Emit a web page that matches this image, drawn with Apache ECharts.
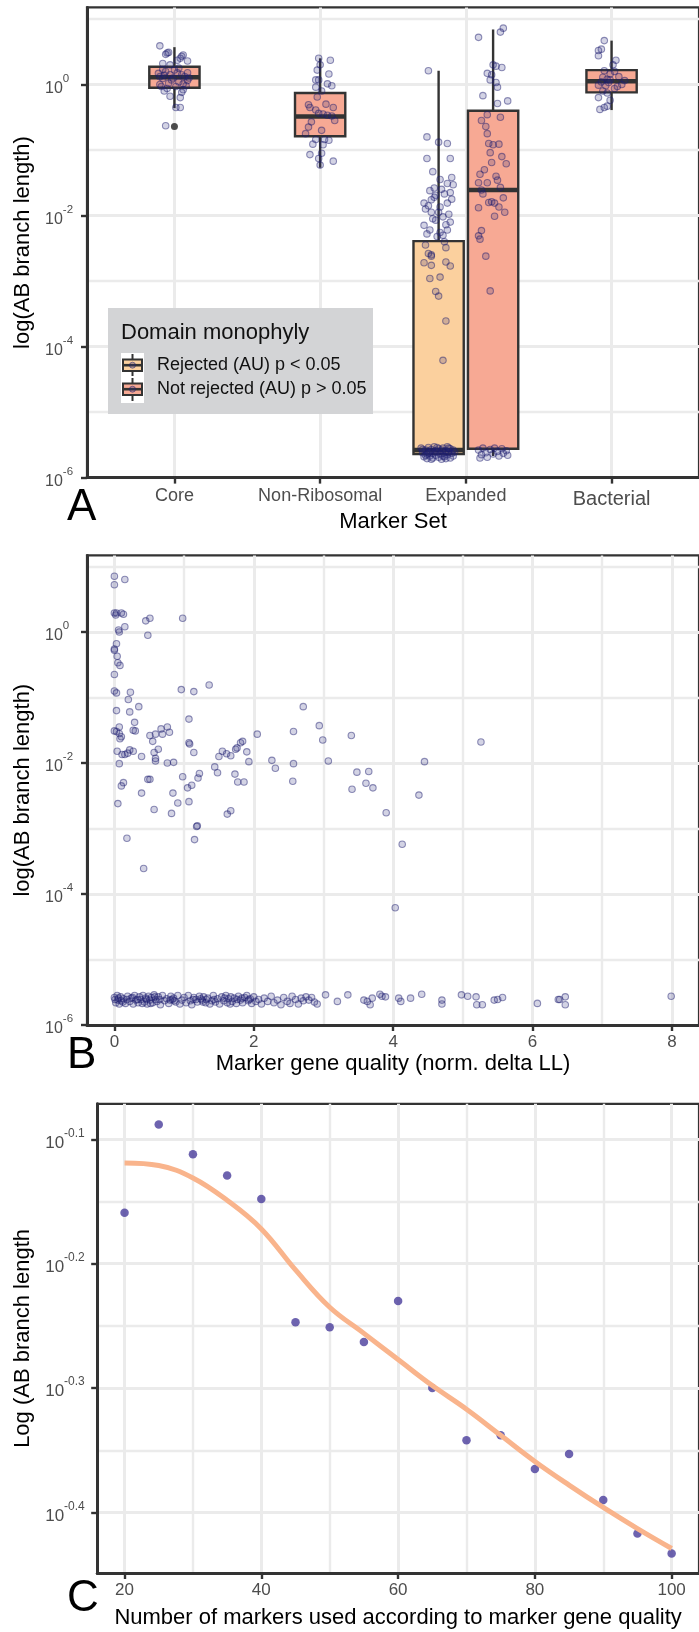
<!DOCTYPE html>
<html>
<head>
<meta charset="utf-8">
<script src="https://cdn.jsdelivr.net/npm/echarts@6/dist/echarts.min.js"></script>
<style>
  html, body { margin: 0; padding: 0; background: #fff; }
  #main { width: 699px; height: 1632px; }
</style>
</head>
<body>
<div id="main"></div>
<script>
// ---------- Panel A: marker sets (values are log10 of AB branch length) ----------
const categories = ['Core', 'Non-Ribosomal', 'Expanded', 'Bacterial'];
const groupNames = ['Rejected (AU) p < 0.05', 'Not rejected (AU) p > 0.05'];

// [low whisker, q1, median, q3, high whisker]
const rejectedBox = [null, null, [-5.66, -5.64, -5.58, -2.39, 0.21], null];
const notRejectedBox = [
  [-0.36, -0.05, 0.11, 0.27, 0.57],
  [-1.27, -0.79, -0.49, -0.13, 0.40],
  [-5.67, -5.56, -1.61, -0.40, 0.84],
  [-0.39, -0.12, 0.05, 0.22, 0.67]
];
// [category index, log10 value]
const outliersA = [[0, -0.64]];

// jittered points: [horizontal jitter, log10 value]
const coreJit = [[-0.10,0.59],[-0.05,0.48],[-0.04,0.49],[-0.06,0.46],[0.05,0.43],[0.06,0.45],[0.09,0.36],[-0.08,0.32],[0.02,0.37],[0.04,0.40],[-0.03,0.30],[-0.08,0.23],[-0.06,0.20],[0.0,0.22],[0.02,0.18],[0.09,0.18],[-0.11,0.17],[-0.03,0.15],[0.05,0.15],[-0.08,0.09],[-0.02,0.07],[0.03,0.04],[0.09,0.06],[-0.09,-0.03],[-0.05,-0.06],[0.01,-0.03],[0.06,-0.08],[-0.07,-0.10],[0.05,-0.12],[-0.03,-0.18],[0.04,-0.20],[0.01,-0.35],[0.04,-0.35],[-0.06,-0.63],[-0.10,0.12],[-0.07,0.14],[0.07,0.12],[0.10,0.10],[-0.04,0.02],[0.06,0.01],[-0.10,0.0],[0.08,-0.02],[-0.01,0.10],[0.03,0.25]];
const nonRiboJit = [[-0.01,0.40],[0.07,0.37],[0.0,0.30],[-0.02,0.22],[0.06,0.16],[-0.03,0.07],[-0.01,0.07],[0.05,0.01],[0.08,-0.02],[-0.03,-0.04],[0.01,-0.10],[-0.02,-0.19],[-0.08,-0.31],[0.04,-0.30],[0.09,-0.35],[-0.07,-0.35],[-0.03,-0.39],[-0.01,-0.44],[0.02,-0.45],[0.05,-0.47],[0.08,-0.48],[0.10,-0.55],[-0.06,-0.57],[-0.08,-0.65],[0.01,-0.70],[-0.10,-0.75],[-0.03,-0.84],[0.03,-0.84],[0.06,-0.85],[-0.05,-0.91],[0.02,-0.92],[-0.07,-1.07],[0.01,-1.05],[-0.01,-1.13],[0.09,-1.17],[0.0,-1.23]];
const expRejJit = [[-0.07,0.21],[-0.08,-0.80],[0.0,-0.88],[0.06,-0.90],[-0.08,-1.13],[0.08,-1.13],[-0.04,-1.33],[0.01,-1.45],[0.09,-1.42],[-0.03,-1.58],[0.06,-1.51],[0.10,-1.53],[0.08,-1.65],[0.04,-1.67],[-0.02,-1.69],[-0.05,-1.76],[-0.10,-1.81],[-0.09,-1.90],[0.06,-1.81],[0.01,-1.87],[-0.05,-1.95],[0.07,-1.98],[0.03,-2.02],[-0.02,-2.07],[0.05,-2.14],[-0.06,-2.22],[0.01,-2.26],[0.06,-2.22],[-0.08,-2.28],[-0.01,-2.32],[0.04,-2.40],[-0.09,-2.45],[0.05,-2.49],[-0.05,-2.60],[-0.03,-1.72],[0.02,-1.60],[-0.07,-1.85],[0.09,-1.75],[0.0,-1.95],[-0.04,-2.05],[0.08,-2.10],[-0.10,-2.15],[0.03,-2.30],[-0.06,-1.62],[-0.07,-2.58],[-0.05,-2.62],[-0.10,-2.72],[-0.05,-2.76],[0.05,-2.71],[0.08,-2.77],[-0.06,-2.96],[0.01,-2.94],[-0.02,-3.16],[0.0,-3.23],[0.05,-3.61],[0.03,-4.21],
  [-0.12,-5.55],[-0.11,-5.62],[-0.10,-5.68],[-0.09,-5.58],[-0.08,-5.64],[-0.08,-5.71],[-0.07,-5.54],[-0.06,-5.60],[-0.06,-5.67],[-0.05,-5.57],[-0.04,-5.63],[-0.04,-5.70],[-0.03,-5.53],[-0.02,-5.59],[-0.02,-5.66],[-0.01,-5.61],[0.0,-5.56],[0.0,-5.69],[0.01,-5.64],[0.02,-5.58],[0.02,-5.72],[0.03,-5.55],[0.04,-5.62],[0.04,-5.68],[0.05,-5.59],[0.06,-5.65],[0.06,-5.53],[0.07,-5.61],[0.08,-5.70],[0.08,-5.56],[0.09,-5.63],[0.10,-5.58],[0.10,-5.67],[0.11,-5.61],[-0.11,-5.57],[-0.09,-5.66],[-0.05,-5.72],[-0.01,-5.54],[0.03,-5.67],[0.07,-5.55],[-0.07,-5.62],[0.05,-5.71]];
const expNotRejJit = [[-0.10,0.72],[0.05,0.80],[0.07,0.86],[0.0,0.30],[0.02,0.28],[0.06,0.26],[-0.04,0.17],[-0.01,0.15],[-0.02,0.07],[0.02,0.03],[0.03,-0.04],[-0.07,-0.17],[0.03,-0.29],[0.10,-0.25],[-0.04,-0.46],[0.05,-0.50],[-0.05,-0.64],[-0.03,-0.90],[0.0,-0.92],[0.04,-0.91],[-0.02,-1.04],[-0.01,-1.19],[0.09,-1.21],[-0.09,-1.37],[0.03,-1.46],[-0.10,-1.50],[-0.04,-1.50],[0.05,-1.57],[-0.08,-1.61],[-0.07,-1.67],[-0.03,-1.80],[-0.01,-1.79],[0.01,-1.81],[0.04,-1.87],[0.07,-1.73],[-0.10,-1.88],[0.01,-2.01],[-0.08,-2.23],[-0.10,-2.31],[-0.09,-2.36],[-0.05,-2.62],[-0.02,-3.15],[0.02,-1.40],[-0.06,-1.30],[0.08,-1.95],[-0.04,-0.75],[0.06,-1.10],[-0.08,-0.55],
  [-0.10,-5.58],[-0.08,-5.65],[-0.07,-5.55],[-0.05,-5.62],[-0.04,-5.69],[-0.02,-5.57],[0.0,-5.64],[0.01,-5.55],[0.03,-5.60],[0.04,-5.67],[0.06,-5.56],[0.07,-5.63],[0.09,-5.59],[0.10,-5.66],[-0.09,-5.70]];
const bactJit = [[-0.05,0.67],[-0.07,0.54],[-0.09,0.52],[-0.09,0.44],[0.03,0.37],[0.01,0.30],[-0.05,0.21],[-0.01,0.16],[0.02,0.20],[-0.06,0.11],[-0.03,0.08],[-0.01,0.07],[0.09,0.06],[-0.09,-0.01],[-0.04,-0.02],[0.02,-0.06],[-0.06,-0.10],[-0.03,-0.13],[-0.09,-0.20],[-0.01,-0.24],[-0.08,-0.38],[-0.05,-0.35],[-0.03,-0.33],[0.05,0.12],[-0.02,0.03],[0.04,-0.03],[0.07,0.0],[-0.07,0.04]];

// ---------- Panel B: marker gene quality vs log10 branch length ----------
const qualityPts = [[0,0.85],[0,0.72],[0.15,0.80],[0,0.29],[0.03,0.29],[0.10,0.29],[0.13,0.27],[0.02,0.26],[0.45,0.17],[0.51,0.21],[0.98,0.21],[0.48,-0.05],[0.15,0.08],[0.06,0.03],[0.07,0.0],
  [0.03,-0.18],[0,-0.26],[0,-0.28],[0.04,-0.37],[0.05,-0.47],[0.08,-0.51],[0,-0.65],[0,-0.90],[0.03,-0.93],[0.23,-0.92],[0.96,-0.88],[1.14,-0.91],[1.36,-0.81],
  [0.20,-1.03],[0.35,-1.14],[0.03,-1.20],[0.22,-1.22],[2.71,-1.14],[0.29,-1.38],[1.07,-1.33],[0.07,-1.45],[0.27,-1.50],[0.30,-1.51],[0,-1.51],[0.03,-1.52],[0.67,-1.48],[0.76,-1.45],[0.79,-1.53],[0.59,-1.56],[0.69,-1.56],[0.51,-1.58],
  [0.07,-1.55],[0.10,-1.60],[0.08,-1.63],[0.55,-1.67],[2.05,-1.56],[2.57,-1.52],[2.94,-1.43],[3.40,-1.58],[2.99,-1.65],[5.26,-1.68],[1.07,-1.69],[1.08,-1.71],[1.81,-1.69],[1.84,-1.67],[1.76,-1.77],[1.90,-1.83],
  [0.22,-1.80],[0.27,-1.82],[0.19,-1.85],[0.15,-1.87],[0.11,-1.87],[0.04,-1.82],[0.39,-1.90],[0.57,-1.84],[0.59,-1.93],[0.59,-1.97],[0.63,-1.79],[0.76,-2.00],[0.85,-1.99],[1.14,-1.84],
  [1.50,-1.90],[1.55,-1.82],[1.61,-1.86],[1.67,-1.89],[1.74,-1.79],[1.93,-1.98],[2.26,-1.96],[2.57,-2.01],[3.07,-1.97],[4.45,-1.98],[0.07,-2.01],[2.31,-2.08],[1.44,-2.06],[1.48,-2.15],[1.73,-2.17],[1.22,-2.16],[0.98,-2.21],[1.20,-2.23],[1.77,-2.29],[1.86,-2.29],[2.56,-2.28],
  [3.48,-2.14],[3.65,-2.13],[3.61,-2.31],[3.71,-2.38],[3.41,-2.40],[0.48,-2.25],[0.51,-2.25],[0.13,-2.30],[0.10,-2.35],[1.11,-2.34],[1.05,-2.38],[0.39,-2.46],[0.84,-2.46],[4.37,-2.49],[1.07,-2.59],[0.91,-2.61],[0.05,-2.62],[0.57,-2.71],[0.82,-2.77],[1.62,-2.78],[1.67,-2.73],[3.90,-2.76],
  [1.19,-2.96],[1.18,-2.97],[0.18,-3.15],[1.15,-3.17],[4.13,-3.24],[0.42,-3.61],[4.03,-4.21],
  [0.00,-5.58],[0.02,-5.66],[0.04,-5.55],[0.05,-5.62],[0.07,-5.68],[0.09,-5.57],[0.10,-5.63],[0.13,-5.60],[0.16,-5.67],[0.19,-5.56],[0.22,-5.64],[0.24,-5.59],[0.27,-5.68],[0.29,-5.55],[0.31,-5.62],[0.34,-5.66],[0.36,-5.57],[0.38,-5.61],[0.41,-5.55],[0.43,-5.65],[0.45,-5.59],[0.47,-5.68],[0.49,-5.56],[0.51,-5.62],[0.53,-5.58],[0.55,-5.66],[0.57,-5.54],[0.59,-5.61],[0.61,-5.64],[0.63,-5.57],[0.66,-5.69],[0.69,-5.55],[0.72,-5.63],[0.75,-5.60],[0.78,-5.67],[0.81,-5.56],[0.83,-5.61],[0.85,-5.59],[0.88,-5.65],[0.91,-5.55],[0.94,-5.68],[0.97,-5.62],
  [1.00,-5.58],[1.03,-5.66],[1.06,-5.55],[1.09,-5.63],[1.11,-5.69],[1.14,-5.58],[1.17,-5.61],[1.19,-5.65],[1.22,-5.56],[1.24,-5.60],[1.26,-5.62],[1.28,-5.57],[1.31,-5.66],[1.34,-5.59],[1.37,-5.68],[1.40,-5.63],[1.42,-5.55],[1.45,-5.65],[1.48,-5.60],[1.51,-5.68],[1.54,-5.57],[1.57,-5.63],[1.60,-5.55],[1.62,-5.66],[1.64,-5.60],[1.67,-5.57],[1.69,-5.64],[1.72,-5.59],[1.75,-5.67],[1.78,-5.56],[1.81,-5.62],[1.84,-5.66],[1.87,-5.58],[1.90,-5.55],[1.92,-5.63],[1.95,-5.60],[1.97,-5.67],
  [2.00,-5.57],[2.03,-5.64],[2.07,-5.61],[2.11,-5.68],[2.15,-5.59],[2.20,-5.64],[2.25,-5.56],[2.29,-5.66],[2.34,-5.62],[2.39,-5.69],[2.43,-5.58],[2.48,-5.64],[2.52,-5.67],[2.55,-5.56],[2.60,-5.61],[2.64,-5.68],[2.68,-5.59],[2.71,-5.63],[2.75,-5.57],[2.79,-5.62],[2.83,-5.58],[2.87,-5.65],[2.91,-5.68],
  [0.01,-5.61],[0.06,-5.59],[0.12,-5.65],[0.18,-5.61],[0.26,-5.58],[0.33,-5.61],[0.40,-5.67],[0.46,-5.61],[0.52,-5.67],[0.58,-5.57],[0.65,-5.61],[0.80,-5.62],[0.86,-5.63],[1.13,-5.61],[1.27,-5.65],[1.32,-5.61],[1.43,-5.61],[1.58,-5.59],[1.66,-5.68],[1.76,-5.61],[1.83,-5.59],[1.93,-5.61],
  [3.03,-5.54],[3.20,-5.64],[3.35,-5.54],[3.58,-5.62],[3.63,-5.64],[3.67,-5.69],[3.70,-5.59],[3.81,-5.53],[3.84,-5.56],[3.89,-5.57],[4.08,-5.59],[4.11,-5.64],[4.25,-5.59],[4.41,-5.53],[4.70,-5.62],[4.70,-5.68],[4.98,-5.54],[5.07,-5.56],[5.19,-5.57],[5.20,-5.69],[5.28,-5.69],[5.45,-5.62],[5.50,-5.61],[5.57,-5.58],[6.07,-5.67],[6.37,-5.61],[6.39,-5.61],[6.47,-5.57],[6.47,-5.69],[7.99,-5.56]];

// ---------- Panel C: number of markers vs log10 branch length ----------
const markersUsed = [20, 25, 30, 35, 40, 45, 50, 55, 60, 65, 70, 75, 80, 85, 90, 95, 100];
const branchLog = [-0.159, -0.088, -0.112, -0.129, -0.148, -0.247, -0.251, -0.263, -0.230, -0.300, -0.342, -0.338, -0.365, -0.353, -0.390, -0.417, -0.433];
const smoothLog = [-0.119, -0.121, -0.131, -0.149, -0.172, -0.205, -0.235, -0.256, -0.277, -0.298, -0.317, -0.338, -0.359, -0.378, -0.396, -0.413, -0.429];

const DODGE = 0.187;
const BOX_W = 0.345;
const FONT = 'Liberation Sans, Arial, sans-serif';
const TICK_GREY = '#4d4d4d';
const FRAME = '#333333';
const GRIDC = '#ebebeb';

function boxData(boxes, side) {
  const out = [];
  boxes.forEach(function (b, i) {
    if (!b) return;
    const both = rejectedBox[i] && notRejectedBox[i];
    out.push([i + 1 + (both ? side * DODGE : 0)].concat(b));
  });
  return out;
}

function renderBox(params, api) {
  const x = api.value(0);
  const lo = api.coord([x, api.value(1)]);
  const q1 = api.coord([x, api.value(2)]);
  const md = api.coord([x, api.value(3)]);
  const q3 = api.coord([x, api.value(4)]);
  const hi = api.coord([x, api.value(5)]);
  const left = api.coord([x - BOX_W / 2, 0])[0];
  const right = api.coord([x + BOX_W / 2, 0])[0];
  const st = { stroke: FRAME, lineWidth: 2.4 };
  return {
    type: 'group',
    children: [
      { type: 'line', shape: { x1: lo[0], y1: lo[1], x2: q1[0], y2: q1[1] }, style: st },
      { type: 'line', shape: { x1: q3[0], y1: q3[1], x2: hi[0], y2: hi[1] }, style: st },
      { type: 'rect', shape: { x: left, y: q3[1], width: right - left, height: q1[1] - q3[1] },
        style: { fill: api.visual('color'), stroke: FRAME, lineWidth: 2.4 } },
      { type: 'line', shape: { x1: left, y1: md[1], x2: right, y2: md[1] }, style: { stroke: FRAME, lineWidth: 4.5 } }
    ]
  };
}

function jitterAt(points, catIdx, side) {
  return points.map(function (p) { return [catIdx + 1 + side * DODGE + p[0], p[1]]; });
}

const jitterA = []
  .concat(jitterAt(coreJit, 0, 0))
  .concat(jitterAt(nonRiboJit, 1, 0))
  .concat(jitterAt(expRejJit, 2, -1))
  .concat(jitterAt(expNotRejJit, 2, 1))
  .concat(jitterAt(bactJit, 3, 0));

const supRich = function (base, sup) {
  return {
    b: { fontSize: base, color: TICK_GREY, lineHeight: 24, verticalAlign: 'bottom', fontFamily: FONT },
    s: { fontSize: sup, color: TICK_GREY, lineHeight: 12, verticalAlign: 'top', fontFamily: FONT }
  };
};

const axisLineStyle = { show: true, onZero: false, lineStyle: { color: FRAME, width: 3 } };

function logAxisY(grid, min, max, name, majors, labelFmt, margin, base, sup, gap) {
  return {
    type: 'value', gridIndex: grid, min: min, max: max, splitNumber: grid === 2 ? 5 : 4,
    name: name, nameLocation: 'middle', nameGap: gap,
    nameTextStyle: { fontSize: 22, color: '#000', fontFamily: FONT },
    axisLine: axisLineStyle,
    axisTick: { show: true, length: 6, customValues: majors, lineStyle: { color: FRAME, width: 2.4 } },
    axisLabel: { customValues: majors, formatter: labelFmt, align: 'left', margin: margin, rich: supRich(base, sup) },
    splitLine: { show: true, lineStyle: { color: GRIDC, width: 3 } },
    minorTick: { show: false, splitNumber: 2 },
    minorSplitLine: { show: true, lineStyle: { color: GRIDC, width: 2.4 } }
  };
}

const decadeFmt = function (v) { return '{b|10}{s|' + Math.round(v) + '}'; };
const tenthFmt = function (v) { return '{b|10}{s|' + (Math.round(v * 10) / 10).toFixed(1) + '}'; };

const option = {
  animation: false,
  backgroundColor: '#ffffff',
  textStyle: { fontFamily: FONT },
  grid: [
    { left: 87, top: 7.4, width: 617, height: 470.2, show: true, borderColor: FRAME, borderWidth: 2.2 },
    { left: 87, top: 555.4, width: 617, height: 469.6, show: true, borderColor: FRAME, borderWidth: 2.2 },
    { left: 97.2, top: 1103.8, width: 607, height: 469.2, show: true, borderColor: FRAME, borderWidth: 2.2 }
  ],
  xAxis: [
    {
      type: 'value', gridIndex: 0, min: 0.4, max: 4.6,
      name: 'Marker Set', nameLocation: 'middle', nameGap: 30,
      nameTextStyle: { fontSize: 22, color: '#000', fontFamily: FONT },
      axisLine: axisLineStyle,
      axisTick: { show: true, length: 6, customValues: [1, 2, 3, 4], lineStyle: { color: FRAME, width: 2.4 } },
      axisLabel: {
        customValues: [1, 2, 3, 4], margin: 9, fontSize: 18, color: TICK_GREY,
        formatter: function (v) {
          const name = categories[Math.round(v) - 1];
          return name === 'Bacterial' ? '{big|' + name + '}' : name;
        },
        rich: { big: { fontSize: 20, color: TICK_GREY, padding: [3, 0, 0, 0], fontFamily: FONT } }
      },
      splitLine: { show: true, lineStyle: { color: GRIDC, width: 3 } }
    },
    {
      type: 'value', gridIndex: 1, min: -0.393, max: 8.389, splitNumber: 5,
      name: 'Marker gene quality (norm. delta LL)', nameLocation: 'middle', nameGap: 28,
      nameTextStyle: { fontSize: 22, color: '#000', fontFamily: FONT },
      axisLine: axisLineStyle,
      axisTick: { show: true, length: 6, customValues: [0, 2, 4, 6, 8], lineStyle: { color: FRAME, width: 2.4 } },
      axisLabel: { customValues: [0, 2, 4, 6, 8], margin: 9, fontSize: 17, color: TICK_GREY },
      splitLine: { show: true, lineStyle: { color: GRIDC, width: 3 } },
      minorTick: { show: false, splitNumber: 2 },
      minorSplitLine: { show: true, lineStyle: { color: GRIDC, width: 2.4 } }
    },
    {
      type: 'value', gridIndex: 2, min: 16, max: 104, splitNumber: 5,
      name: 'Number of markers used according to marker gene quality', nameLocation: 'middle', nameGap: 34,
      nameTextStyle: { fontSize: 22, color: '#000', fontFamily: FONT },
      axisLine: axisLineStyle,
      axisTick: { show: true, length: 6, customValues: [20, 40, 60, 80, 100], lineStyle: { color: FRAME, width: 2.4 } },
      axisLabel: { customValues: [20, 40, 60, 80, 100], margin: 9, fontSize: 17, color: TICK_GREY },
      splitLine: { show: true, lineStyle: { color: GRIDC, width: 3 } },
      minorTick: { show: false, splitNumber: 2 },
      minorSplitLine: { show: true, lineStyle: { color: GRIDC, width: 2.4 } }
    }
  ],
  yAxis: [
    logAxisY(0, -6, 1.177, 'log(AB branch length)', [-6, -4, -2, 0], decadeFmt, 42, 16, 11.5, 48),
    logAxisY(1, -6, 1.169, 'log(AB branch length)', [-6, -4, -2, 0], decadeFmt, 42, 16, 11.5, 48),
    logAxisY(2, -0.4487, -0.0714, 'Log (AB branch length', [-0.4, -0.3, -0.2, -0.1], tenthFmt, 52, 17, 12, 58)
  ],
  series: [
    {
      name: groupNames[0], type: 'custom', xAxisIndex: 0, yAxisIndex: 0,
      itemStyle: { color: '#fbd09e' }, renderItem: renderBox,
      encode: { x: 0, y: [1, 2, 3, 4, 5] }, data: boxData(rejectedBox, -1), z: 2
    },
    {
      name: groupNames[1], type: 'custom', xAxisIndex: 0, yAxisIndex: 0,
      itemStyle: { color: '#f7a994' }, renderItem: renderBox,
      encode: { x: 0, y: [1, 2, 3, 4, 5] }, data: boxData(notRejectedBox, 1), z: 2
    },
    {
      name: 'outliers', type: 'scatter', xAxisIndex: 0, yAxisIndex: 0,
      symbolSize: 7, itemStyle: { color: '#222222' },
      data: outliersA.map(function (o) { return [o[0] + 1, o[1]]; }), z: 3
    },
    {
      name: 'genes', type: 'scatter', xAxisIndex: 0, yAxisIndex: 0, symbolSize: 6.5,
      itemStyle: { color: 'rgba(45,45,125,0.26)', borderColor: 'rgba(30,30,110,0.6)', borderWidth: 1.1 },
      data: jitterA, z: 4
    },
    {
      name: 'quality', type: 'scatter', xAxisIndex: 1, yAxisIndex: 1, symbolSize: 6.5,
      itemStyle: { color: 'rgba(45,45,125,0.26)', borderColor: 'rgba(30,30,110,0.6)', borderWidth: 1.1 },
      data: qualityPts, z: 4
    },
    {
      name: 'branch length', type: 'scatter', xAxisIndex: 2, yAxisIndex: 2, symbolSize: 8.5,
      itemStyle: { color: '#483c9b' },
      data: markersUsed.map(function (m, i) { return [m, branchLog[i]]; }), z: 3
    },
    {
      name: 'smooth', type: 'line', xAxisIndex: 2, yAxisIndex: 2, smooth: 0.4, showSymbol: false, symbol: 'none',
      lineStyle: { color: '#f9b48c', width: 5 },
      data: markersUsed.map(function (m, i) { return [m, smoothLog[i]]; }), z: 4
    }
  ],
  graphic: [
    { type: 'text', left: 67, top: 486, z: 100, style: { text: 'A', fontSize: 44, fill: '#000', fontFamily: FONT } },
    { type: 'text', left: 67, top: 1034, z: 100, style: { text: 'B', fontSize: 44, fill: '#000', fontFamily: FONT } },
    { type: 'text', left: 67, top: 1577, z: 100, style: { text: 'C', fontSize: 44, fill: '#000', fontFamily: FONT } },
    // legend of panel A
    { type: 'rect', z: 100, shape: { x: 108, y: 308, width: 265, height: 106 }, style: { fill: '#d3d4d6' } },
    { type: 'text', z: 101, x: 121, y: 333, style: { text: 'Domain monophyly', fontSize: 22, fill: '#111', fontFamily: FONT, verticalAlign: 'middle' } },
    { type: 'rect', z: 101, shape: { x: 121, y: 353, width: 23, height: 50 }, style: { fill: '#ffffff' } },
    { type: 'line', z: 102, shape: { x1: 132.5, y1: 354, x2: 132.5, y2: 376 }, style: { stroke: FRAME, lineWidth: 2 } },
    { type: 'rect', z: 103, shape: { x: 123, y: 359.5, width: 19, height: 11.5 }, style: { fill: '#fbd09e', stroke: FRAME, lineWidth: 2 } },
    { type: 'line', z: 104, shape: { x1: 123, y1: 365.2, x2: 142, y2: 365.2 }, style: { stroke: FRAME, lineWidth: 2.6 } },
    { type: 'circle', z: 105, shape: { cx: 132.5, cy: 365.2, r: 3 }, style: { fill: 'rgba(45,45,125,0.3)', stroke: 'rgba(30,30,110,0.5)', lineWidth: 1 } },
    { type: 'line', z: 102, shape: { x1: 132.5, y1: 378, x2: 132.5, y2: 401 }, style: { stroke: FRAME, lineWidth: 2 } },
    { type: 'rect', z: 103, shape: { x: 123, y: 383.5, width: 19, height: 11.5 }, style: { fill: '#f7a994', stroke: FRAME, lineWidth: 2 } },
    { type: 'line', z: 104, shape: { x1: 123, y1: 389.2, x2: 142, y2: 389.2 }, style: { stroke: FRAME, lineWidth: 2.6 } },
    { type: 'circle', z: 105, shape: { cx: 132.5, cy: 389.2, r: 3 }, style: { fill: 'rgba(45,45,125,0.3)', stroke: 'rgba(30,30,110,0.5)', lineWidth: 1 } },
    { type: 'text', z: 101, x: 157, y: 365, style: { text: groupNames[0], fontSize: 18, fill: '#111', fontFamily: FONT, verticalAlign: 'middle' } },
    { type: 'text', z: 101, x: 157, y: 389, style: { text: groupNames[1], fontSize: 18, fill: '#111', fontFamily: FONT, verticalAlign: 'middle' } }
  ]
};

const chart = echarts.init(document.getElementById('main'), null, { renderer: 'canvas' });
chart.setOption(option);
</script>
</body>
</html>
